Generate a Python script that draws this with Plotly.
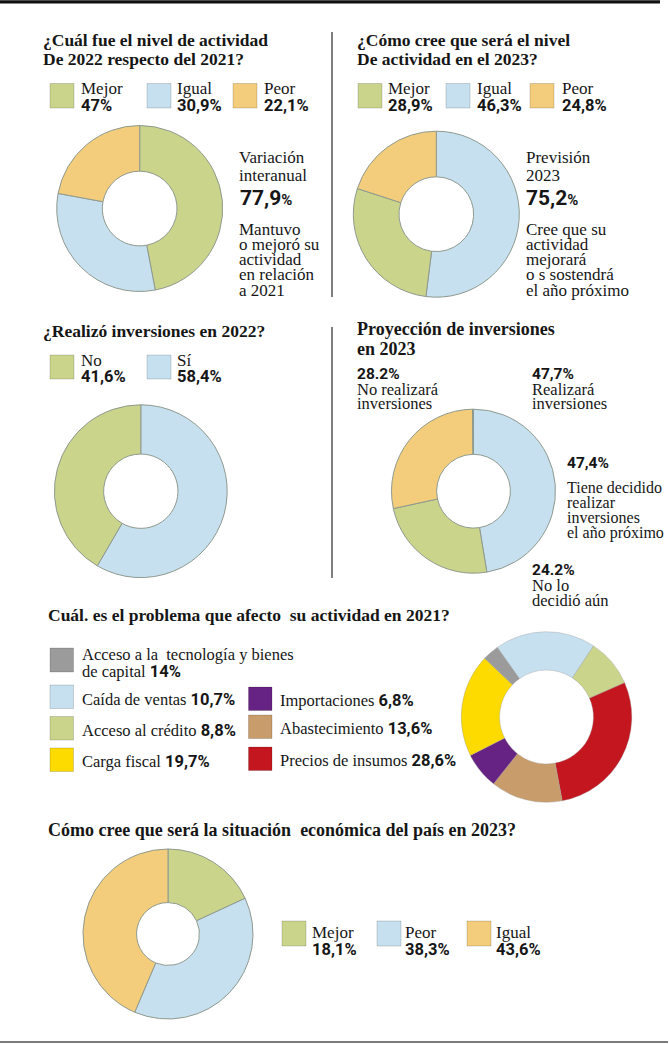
import plotly.graph_objects as go

# ---------------- DATA ----------------
# 1. Nivel de actividad 2022 vs 2021
act22_cats = ["Mejor", "Igual", "Peor"]
act22_vals = [47.0, 30.9, 22.1]
act22_text = ["47%", "30,9%", "22,1%"]

# 2. Nivel de actividad esperado 2023 (legend values + arc shares as drawn)
act23_cats = ["Mejor", "Igual", "Peor"]
act23_text = ["28,9%", "46,3%", "24,8%"]
act23_arc_order = ["Igual", "Mejor", "Peor"]
act23_arc_vals = [52.0, 28.0, 20.0]

# 3. Inversiones 2022
inv22_cats = ["No", "Sí"]
inv22_vals = [41.6, 58.4]
inv22_text = ["41,6%", "58,4%"]

# 4. Proyección de inversiones 2023
proj_cats = ["Tiene decidido realizar inversiones", "No lo decidió aún",
             "No realizará inversiones", "Sin respuesta"]
proj_vals = [47.4, 24.2, 28.2, 0.2]

# 5. Problema que afectó la actividad (legend text + arc shares as drawn)
prob_cats = ["Acceso a la  tecnología y bienes de capital", "Caída de ventas",
             "Acceso al crédito", "Carga fiscal", "Importaciones",
             "Abastecimiento", "Precios de insumos"]
prob_text = ["14%", "10,7%", "8,8%", "19,7%", "6,8%", "13,6%", "28,6%"]
prob_arc_order = ["Caída de ventas", "Acceso al crédito", "Precios de insumos",
                  "Abastecimiento", "Importaciones", "Carga fiscal",
                  "Acceso a la  tecnología y bienes de capital"]
prob_arc_vals = [19.1, 9.1, 28.6, 13.6, 6.9, 19.5, 3.1]

# 6. Situación económica del país 2023
pais_cats = ["Mejor", "Peor", "Igual"]
pais_vals = [18.1, 38.3, 43.6]
pais_text = ["18,1%", "38,3%", "43,6%"]

# ---------------- STYLE ----------------
W, H = 670, 1044
GREEN, BLUE, ORANGE, GREY = "#cad48b", "#c6e0f0", "#f3cd7b", "#9b9b9b"
YELLOW, PURPLE, BROWN, RED = "#fddb00", "#662383", "#c99d6b", "#c4161f"
SERIF = "Liberation Serif"
SANS = "Roboto"
INK = "#161616"
TITLE = 17.5

def X(px):
    return px / W

def Y(py):
    return 1 - py / H

fig = go.Figure()
ann = []
shapes = []

def txt(x, y, s, size=16.5, family=SERIF, bold=False, color=INK):
    if bold:
        s = "<b>" + s + "</b>"
    ann.append(dict(x=X(x), y=Y(y), xref="paper", yref="paper", text=s,
                    showarrow=False, xanchor="left", yanchor="middle",
                    borderpad=0, borderwidth=0, align="left",
                    font=dict(family=family, size=size, color=color)))

def pct(s):
    return '<span style="font-family:Roboto"><b>' + s + '</b></span>'

def swatch(x0, y0, x1, y1, color):
    shapes.append(dict(type="rect", xref="paper", yref="paper",
                       x0=X(x0), x1=X(x1), y0=Y(y1), y1=Y(y0),
                       fillcolor=color, line=dict(color="rgba(0,0,0,0.16)", width=1)))

def line(x0, y0, x1, y1, color, width):
    shapes.append(dict(type="line", xref="paper", yref="paper",
                       x0=X(x0), x1=X(x1), y0=Y(y0), y1=Y(y1),
                       line=dict(color=color, width=width)))

def donut(labels, values, colors, cx, cy, r, hole, rotation=0,
          lc="#8f9a8f", lw=1):
    fig.add_trace(go.Pie(
        labels=labels, values=values, sort=False, direction="clockwise",
        rotation=rotation, hole=hole, textinfo="none", showlegend=False,
        hoverinfo="label+value",
        marker=dict(colors=colors, line=dict(color=lc, width=lw)),
        domain=dict(x=[X(cx - r), X(cx + r)], y=[Y(cy + r), Y(cy - r)])))

def legend_row(items, y_sw0, y_sw1, y_lab, y_pct, sw_xs, lab_xs):
    for (cat, t, col), sx, lx in zip(items, sw_xs, lab_xs):
        swatch(sx, y_sw0, sx + 24, y_sw1, col)
        txt(lx, y_lab, cat, size=17)
        txt(lx, y_pct, t, size=16.5, family=SANS, bold=True)

# ---------------- RULES ----------------
line(0, 1.8, 660, 1.8, "#111111", 3.2)
line(332, 32, 332, 297, "#555555", 1.5)
line(332, 327, 332, 578, "#555555", 1.5)
line(0, 1042, 668, 1042, "#7a7a7a", 2)

# ---------------- CHART 1 ----------------
c1 = {"Mejor": GREEN, "Igual": BLUE, "Peor": ORANGE}
txt(43, 40, "¿Cuál fue el nivel de actividad", size=TITLE, bold=True)
txt(43, 59, "De 2022 respecto del 2021?", size=TITLE, bold=True)
legend_row([(c, t, c1[c]) for c, t in zip(act22_cats, act22_text)],
           83.5, 108, 89, 105.5, [50, 147, 233], [81, 177, 264])
donut(act22_cats, act22_vals, [c1[c] for c in act22_cats], 139.7, 208.5, 83, 0.45)
txt(239, 157.5, "Variación", size=17)
txt(239, 176, "interanual", size=17)
txt(240, 198, '77,9<span style="font-size:15px">%</span>', size=21, family=SANS, bold=True)
for i, s in enumerate(["Mantuvo", "o mejoró su", "actividad", "en relación", "a 2021"]):
    txt(239, 229.2 + i * 15.2, s, size=17)

# ---------------- CHART 2 ----------------
txt(357, 40, "¿Cómo cree que será el nivel", size=TITLE, bold=True)
txt(357, 59, "De actividad en el 2023?", size=TITLE, bold=True)
legend_row([(c, t, c1[c]) for c, t in zip(act23_cats, act23_text)],
           83.5, 108, 89, 105.5, [358, 446, 530], [388, 477, 562])
donut(act23_arc_order, act23_arc_vals, [c1[c] for c in act23_arc_order],
      436.3, 214.2, 83, 0.45)
txt(526, 157.5, "Previsión", size=17)
txt(526, 176, "2023", size=17)
txt(526, 198, '75,2<span style="font-size:15px">%</span>', size=21, family=SANS, bold=True)
for i, s in enumerate(["Cree que su", "actividad", "mejorará", "o s sostendrá", "el año próximo"]):
    txt(526, 229.2 + i * 15.2, s, size=17)

# ---------------- CHART 3 ----------------
c3 = {"No": GREEN, "Sí": BLUE}
txt(43, 331, "¿Realizó inversiones en 2022?", size=TITLE, bold=True)
legend_row([(c, t, c3[c]) for c, t in zip(inv22_cats, inv22_text)],
           355, 379, 360, 376.5, [50, 147], [81, 177])
inv_order = ["Sí", "No"]
donut(inv_order, [inv22_vals[inv22_cats.index(c)] for c in inv_order],
      [c3[c] for c in inv_order], 140.8, 491.2, 86.4, 0.43)

# ---------------- CHART 4 ----------------
txt(357, 329.2, "Proyección de inversiones", size=TITLE + 0.5, bold=True)
txt(357, 349.2, "en 2023", size=TITLE + 0.5, bold=True)
donut(proj_cats, proj_vals, [BLUE, GREEN, ORANGE, GREY], 473.5, 491.2, 82, 0.45)
txt(357, 373.9, "28.2%", size=15.5, family=SANS, bold=True)
txt(357, 389.5, "No realizará", size=16.5)
txt(357, 403.9, "inversiones", size=16.5)
txt(532, 373.9, "47,7%", size=15.5, family=SANS, bold=True)
txt(532, 389.5, "Realizará", size=16.5)
txt(532, 403.9, "inversiones", size=16.5)
txt(567, 463.2, "47,4%", size=15.5, family=SANS, bold=True)
for i, s in enumerate(["Tiene decidido", "realizar", "inversiones", "el año próximo"]):
    txt(567, 487.7 + i * 15, s, size=16)
txt(532, 570, "24.2%", size=15.5, family=SANS, bold=True)
txt(532, 585, "No lo", size=16.5)
txt(532, 600, "decidió aún", size=16.5)

# ---------------- CHART 5 ----------------
c5 = dict(zip(prob_cats, [GREY, BLUE, GREEN, YELLOW, PURPLE, BROWN, RED]))
txt(48, 614.5, "Cuál. es el problema que afecto  su actividad en 2021?", size=TITLE, bold=True)
swatch(50, 648, 73.5, 672, c5[prob_cats[0]])
txt(81.5, 654.5, "Acceso a la  tecnología y bienes", size=16.5)
txt(81.5, 671, "de capital " + pct(prob_text[0]), size=16.5)
left_rows = [(1, 685, 699.5), (2, 716.5, 730), (3, 748, 761.5)]
for idx, y0, yt in left_rows:
    swatch(50, y0, 73.5, y0 + 23.5, c5[prob_cats[idx]])
    txt(81.5, yt, prob_cats[idx] + " " + pct(prob_text[idx]), size=16.5)
right_rows = [(4, 687, 700), (5, 715, 728.5), (6, 747, 760)]
for idx, y0, yt in right_rows:
    swatch(248.5, y0, 272, y0 + 23.5, c5[prob_cats[idx]])
    txt(280, yt, prob_cats[idx] + " " + pct(prob_text[idx]), size=16.5)
donut(prob_arc_order, prob_arc_vals, [c5[c] for c in prob_arc_order],
      546.5, 717, 85.3, 0.55, rotation=-35.3, lc="rgba(150,150,150,0.6)", lw=0.6)

# ---------------- CHART 6 ----------------
c6 = {"Mejor": GREEN, "Peor": BLUE, "Igual": ORANGE}
txt(48, 829.5, "Cómo cree que será la situación  económica del país en 2023?", size=TITLE + 0.5, bold=True)
donut(pais_cats, pais_vals, [c6[c] for c in pais_cats], 168, 934, 85, 0.37)
legend_row([(c, t, c6[c]) for c, t in zip(pais_cats, pais_text)],
           921, 946, 932.5, 949, [282, 377, 467], [312, 405, 496])

fig.update_layout(width=W, height=H, autosize=False,
                  margin=dict(l=0, r=0, t=0, b=0),
                  paper_bgcolor="white", plot_bgcolor="white",
                  annotations=ann, shapes=shapes)
fig.write_html("out.html", config={"displayModeBar": False},
               post_script="document.body.style.margin='0px';")
